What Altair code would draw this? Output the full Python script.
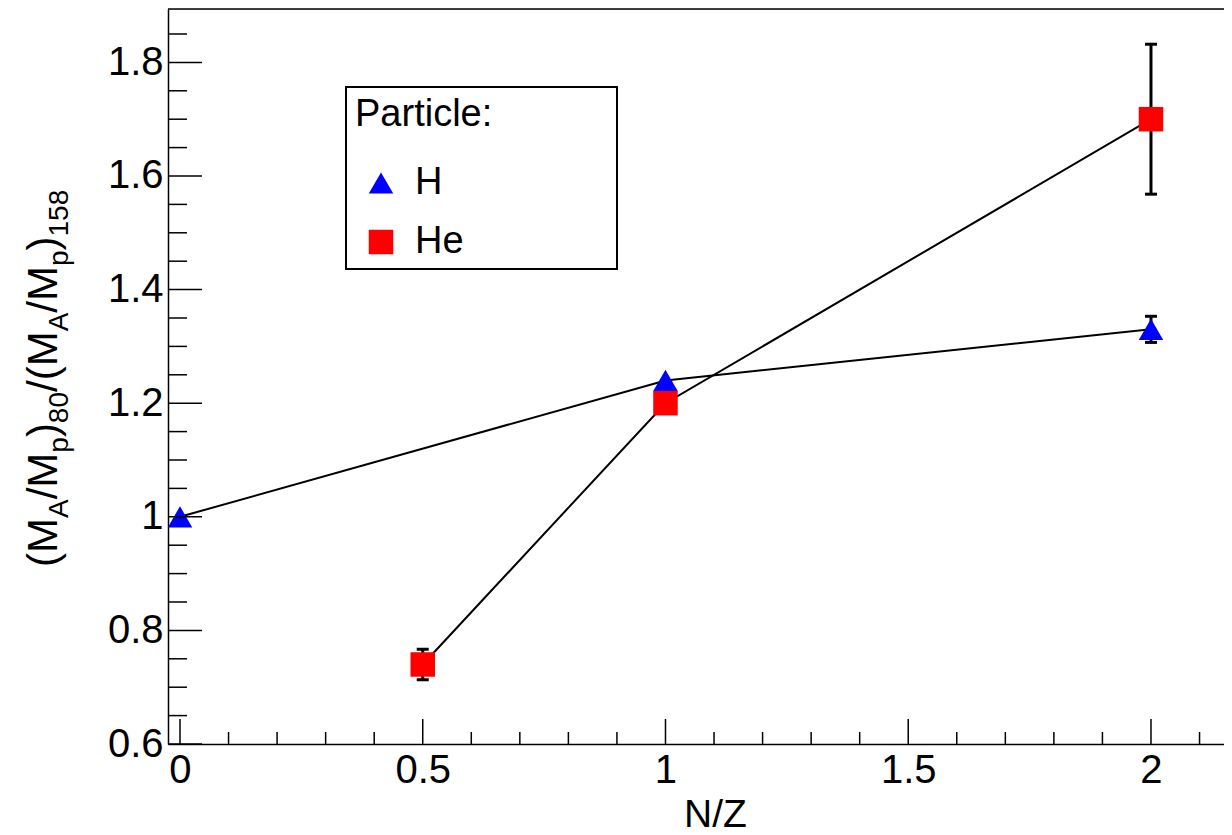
import altair as alt
import pandas as pd

# ---- data ----
particle = ["H", "H", "H", "He", "He", "He"]
nz = [0.0, 1.0, 2.0, 0.5, 1.0, 2.0]
ratio = [1.00, 1.24, 1.33, 0.74, 1.20, 1.70]
err = [0.0, 0.0, 0.023, 0.027, 0.0, 0.132]

x_major = [0, 0.5, 1, 1.5, 2]
x_minor = [0.1, 0.2, 0.3, 0.4, 0.6, 0.7, 0.8, 0.9, 1.1, 1.2, 1.3, 1.4,
           1.6, 1.7, 1.8, 1.9, 2.1]
y_major = [0.6, 0.8, 1.0, 1.2, 1.4, 1.6, 1.8]
y_minor = [0.65, 0.7, 0.75, 0.85, 0.9, 0.95, 1.05, 1.1, 1.15, 1.25, 1.3,
           1.35, 1.45, 1.5, 1.55, 1.65, 1.7, 1.75, 1.85]

x_domain = [-0.0247, 2.1504]
y_domain = [0.6, 1.894]

# ---- layout ----
W, H = 1056, 735
FONT = "Liberation Sans"
BIG, SUB = 42, 28

df = pd.DataFrame({"particle": particle, "nz": nz, "ratio": ratio, "err": err})
one = pd.DataFrame({"k": [0]})

xs = alt.Scale(domain=x_domain, nice=False, zero=False)
ys = alt.Scale(domain=y_domain, nice=False, zero=False)

x_axis = alt.Axis(
    values=x_major, format=".1~f", labelFontSize=40, labelColor="black",
    labelPadding=6, ticks=False, tickSize=0, domain=True, domainColor="black",
    domainWidth=1.5, grid=False, title="N/Z", titleFontSize=39,
    titleFontWeight="normal", titleColor="black", titleX=547, titleY=82,
    titleBaseline="alphabetic", titleAlign="center", labelFlush=False,
    labelOverlap=False, orient="bottom",
)
y_axis = alt.Axis(
    values=y_major, format=".1~f", labelFontSize=40, labelColor="black",
    labelPadding=5, ticks=False, tickSize=0, domain=True, domainColor="black",
    domainWidth=1.5, grid=False, title="", labelFlush=False,
    labelOverlap=False, orient="left",
)

def X(field):
    return alt.X(field, scale=xs, axis=x_axis)

def Y(field):
    return alt.Y(field, scale=ys, axis=y_axis)

base = alt.Chart(df)

lines = base.mark_line(color="black", strokeWidth=2).encode(
    x=X("nz:Q"), y=Y("ratio:Q"), detail="particle:N", order="nz:Q",
)

eb = base.transform_filter("datum.err > 0").transform_calculate(
    lo="datum.ratio - datum.err", hi="datum.ratio + datum.err"
)
bars = eb.mark_rule(color="black", strokeWidth=3, opacity=1).encode(
    x=X("nz:Q"), y=Y("lo:Q"), y2="hi:Q",
)
caps_lo = eb.mark_tick(color="black", orient="horizontal", size=12, thickness=3,
                       opacity=1).encode(x=X("nz:Q"), y=Y("lo:Q"))
caps_hi = eb.mark_tick(color="black", orient="horizontal", size=12, thickness=3,
                       opacity=1).encode(x=X("nz:Q"), y=Y("hi:Q"))

leg = alt.Legend(title="Particle:", orient="none", legendX=178, legendY=78)

points = base.mark_point(filled=True, size=600, opacity=1, strokeWidth=0).encode(
    x=X("nz:Q"),
    y=Y("ratio:Q"),
    color=alt.Color(
        "particle:N",
        scale=alt.Scale(domain=["H", "He"], range=["#0000ff", "#ff0000"]),
        legend=leg,
    ),
    shape=alt.Shape(
        "particle:N",
        scale=alt.Scale(domain=["H", "He"], range=["triangle-up", "square"]),
        legend=leg,
    ),
)

# legend frame (ROOT-style box, wider than the entries)
legend_box = alt.Chart(one).mark_rect(fill="white", stroke="black", strokeWidth=2).encode(
    x=alt.value(178), x2=alt.value(449), y=alt.value(78), y2=alt.value(260))

# inward ticks (ROOT style)
ymaj = alt.Chart(pd.DataFrame({"v": y_major})).mark_rule(color="black", strokeWidth=1.5).encode(
    y=Y("v:Q"), x=alt.value(0), x2=alt.value(34))
ymin = alt.Chart(pd.DataFrame({"v": y_minor})).mark_rule(color="black", strokeWidth=1.5).encode(
    y=Y("v:Q"), x=alt.value(0), x2=alt.value(19))
xmaj = alt.Chart(pd.DataFrame({"v": x_major})).mark_rule(color="black", strokeWidth=1.5).encode(
    x=X("v:Q"), y=alt.value(H), y2=alt.value(H - 25))
xmin = alt.Chart(pd.DataFrame({"v": x_minor})).mark_rule(color="black", strokeWidth=1.5).encode(
    x=X("v:Q"), y=alt.value(H), y2=alt.value(H - 12))
top = alt.Chart(one).mark_rule(color="black", strokeWidth=1.5).encode(
    y=alt.value(0), x=alt.value(0), x2=alt.value(W))

# y-axis title with sub-scripts: (M_A/M_p)_80/(M_A/M_p)_158
adv = {"(": 0.333, "M": 0.833, "/": 0.278, ")": 0.333, "A": 0.667, "p": 0.556,
       "0": 0.556, "1": 0.556, "5": 0.556, "8": 0.556}
pieces = [("(M", False), ("A", True), ("/M", False), ("p", True), (")", False),
          ("80", True), ("/(M", False), ("A", True), ("/M", False), ("p", True),
          (")", False), ("158", True)]
ypos = 567 - 9
xbig = 57 - 168
xsub = xbig + 11
title_layers = []
for t, sub in pieces:
    fs = SUB if sub else BIG
    title_layers.append(
        alt.Chart(one).mark_text(
            text=t, angle=270, align="left", baseline="alphabetic",
            fontSize=fs, font=FONT, color="black",
        ).encode(x=alt.value(xsub if sub else xbig), y=alt.value(ypos))
    )
    ypos -= sum(adv[c] for c in t) * fs

chart = alt.layer(
    lines, bars, caps_lo, caps_hi, legend_box, points, ymaj, ymin, xmaj, xmin, top,
    *title_layers
).properties(
    width=W,
    height=H,
    autosize=alt.AutoSizeParams(type="none"),
    padding={"left": 160, "top": 1, "right": 0, "bottom": 90},
    background="white",
).configure_view(stroke=None).configure(font=FONT).configure_legend(
    padding=9,
    titleFontSize=38,
    titleFontWeight="normal",
    titleColor="black",
    titlePadding=30,
    labelFontSize=38,
    labelColor="black",
    rowPadding=21,
    symbolSize=600,
    symbolOffset=7,
    labelOffset=15,
    symbolStrokeWidth=0,
)

chart.save("out.html", embed_options={"renderer": "svg", "actions": False})
